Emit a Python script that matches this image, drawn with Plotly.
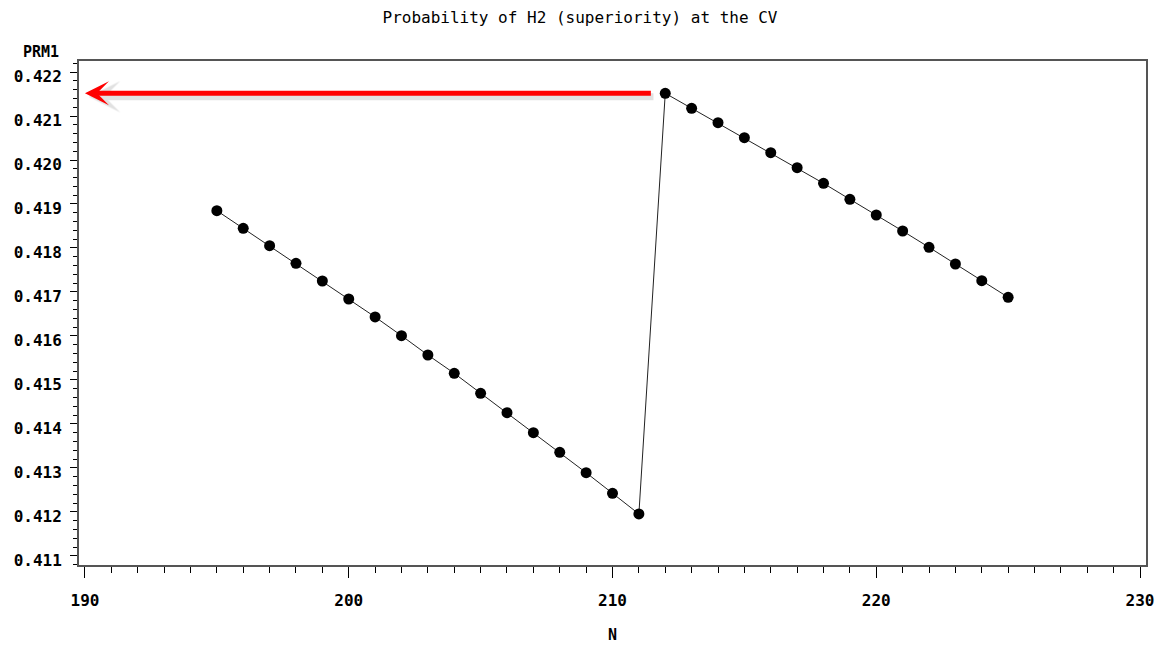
import plotly.graph_objects as go

# Data
n_values = list(range(195, 226))
prm1 = [
    0.418848, 0.418448, 0.418052, 0.417652, 0.417250, 0.416841, 0.416432,
    0.416007, 0.415568, 0.415152, 0.414698, 0.414257, 0.413802, 0.413357,
    0.412893, 0.412425, 0.411955,
    0.421516, 0.421175, 0.420848, 0.420507, 0.420166, 0.419825, 0.419470,
    0.419107, 0.418750, 0.418386, 0.418016, 0.417636, 0.417257, 0.416880,
]
x_ticks = [190, 200, 210, 220, 230]
y_ticks = [0.411, 0.412, 0.413, 0.414, 0.415, 0.416, 0.417, 0.418, 0.419, 0.420, 0.421, 0.422]
arrow_level = 0.421516
arrow_tail_n = 211.51
arrow_tip_n = 190.0

FONT = "DejaVu Sans Mono"
PLOT_H = 647 - 61 - 82

fig = go.Figure()
fig.add_trace(go.Scatter(
    x=n_values, y=prm1, mode="lines+markers",
    line=dict(color="#222222", width=1),
    marker=dict(color="black", size=11, symbol="circle"),
    showlegend=False,
))

# shadow of arrow
fig.add_annotation(
    x=arrow_tip_n + 0.15, y=arrow_level - 0.00008, ax=arrow_tail_n + 0.1, ay=arrow_level - 0.00008,
    xref="x", yref="y", axref="x", ayref="y",
    showarrow=True, arrowhead=3, arrowsize=0.75, arrowwidth=7,
    arrowcolor="rgba(0,0,0,0.12)", text="", standoff=0,
)
# red arrow
fig.add_annotation(
    x=arrow_tip_n, y=arrow_level, ax=arrow_tail_n, ay=arrow_level,
    xref="x", yref="y", axref="x", ayref="y",
    showarrow=True, arrowhead=3, arrowsize=0.8, arrowwidth=5,
    arrowcolor="#ff0000", text="", standoff=0,
)

fig.add_annotation(
    text="<b>PRM1</b>", xref="paper", yref="paper",
    x=(41 - 79) / 1072, y=1 + (61 - 52) / PLOT_H,
    xanchor="center", yanchor="middle", showarrow=False,
    font=dict(family=FONT, size=15, color="black"),
)
fig.add_annotation(
    text="<b>N</b>", xref="paper", yref="paper",
    x=(615 - 79) / 1072, y=-(635 - 565) / PLOT_H,
    xanchor="center", yanchor="middle", showarrow=False,
    font=dict(family=FONT, size=15, color="black"),
)

fig.update_layout(
    width=1166, height=647,
    margin=dict(l=79, r=15, t=61, b=82),
    paper_bgcolor="white", plot_bgcolor="white",
    title=dict(
        text="Probability of H2 (superiority) at the CV",
        x=(580 / 1166), xref="container", xanchor="center",
        y=1 - 17 / 647, yref="container", yanchor="middle",
        font=dict(family=FONT, size=16, color="black"),
    ),
    xaxis=dict(
        range=[189.774, 230.226],
        tickvals=x_ticks, ticktext=["<b>%d</b>" % v for v in x_ticks],
        ticks="outside", ticklen=11, tickwidth=1, tickcolor="black",
        minor=dict(dtick=1, ticks="outside", ticklen=6, tickcolor="black", tickwidth=1),
        showgrid=False, zeroline=False,
        showline=True, linecolor="#555555", linewidth=2, mirror=True,
        tickfont=dict(family=FONT, size=16, color="black"),
        ticklabelstandoff=9,
    ),
    yaxis=dict(
        range=[0.410795, 0.42225],
        tickvals=y_ticks, ticktext=["<b>%.3f</b>" % v for v in y_ticks],
        ticks="outside", ticklen=7, tickwidth=1, tickcolor="black",
        minor=dict(dtick=0.0002, ticks="outside", ticklen=4, tickcolor="black", tickwidth=1),
        showgrid=False, zeroline=False,
        showline=True, linecolor="#555555", linewidth=2, mirror=True,
        tickfont=dict(family=FONT, size=16, color="black"),
        ticklabelstandoff=5,
        ticklabelshift=4,
    ),
)

fig.write_html("out.html")
